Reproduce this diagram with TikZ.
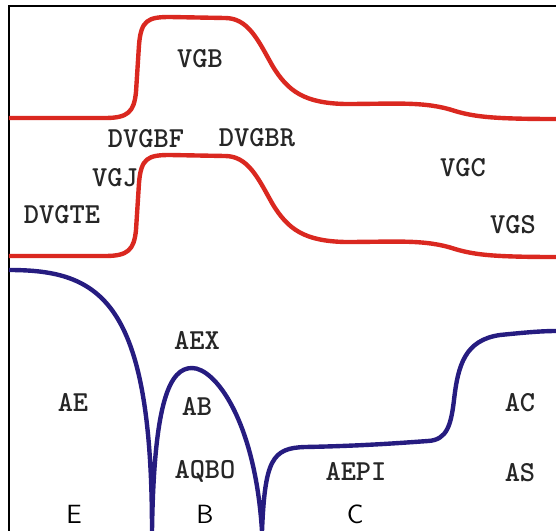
\documentclass[tikz,border=0pt]{standalone}
\usepackage{tikz}
\usepackage{amsmath}
\usetikzlibrary{calc}
\definecolor{vg_red}{RGB}{218, 40, 32}
\definecolor{a_blue}{RGB}{38, 28, 128}
\tikzstyle{lbl}=[font=\fontsize{16.5}{19}\selectfont\ttfamily\bfseries,
  inner sep=0pt,text depth=0pt,text=black!85]
\tikzstyle{reg}=[font=\fontsize{15}{18}\selectfont\sffamily,
  inner sep=0pt,text depth=0pt,text=black]
\tikzstyle{vg}=[draw=vg_red,line width=2.5pt,line join=round]
\tikzstyle{ac}=[draw=a_blue,line width=2.5pt,line join=round]
\tikzstyle{frame}=[draw=black,line width=1.2pt]

\begin{document}
\begin{tikzpicture}[x=0.02cm,y=-0.02cm]
        \useasboundingbox (0,0) rectangle (556,531);
        \draw [style=frame] (556,6) -- (9,6) -- (9,531);
        % the two red curves have the same shape
        \foreach \dy in {0,138} {
            \draw [style=vg,shift={(0,\dy)}] (9,118) -- (105,118)
                .. controls (128,118) and (134,112) .. (136,92) -- (139,45)
                .. controls (141,20) and (148,17) .. (170,17) -- (225,18)
                .. controls (248,18) and (258,40) .. (272,65)
                .. controls (288,92) and (305,103) .. (345,104)
                .. controls (395,104) and (425,101) .. (455,111)
                .. controls (475,117) and (495,119) .. (556,119);
        }
        \draw [style=ac] (9,270) .. controls (100,270) and (152,300) .. (152,531)
            .. controls (154,400) and (170,368) .. (192,368)
            .. controls (215,368) and (255,420) .. (262,531)
            .. controls (265,460) and (272,448) .. (305,447)
            .. controls (360,446) and (400,443) .. (428,441)
            .. controls (447,440) and (451,425) .. (454,400)
            .. controls (458,365) and (465,340) .. (500,335)
            .. controls (520,333) and (540,331) .. (556,331);
        \node [style=lbl] (0) at (200,58) {VGB};
        \node [style=lbl] (1) at (146,138) {DVGBF};
        \node [style=lbl] (2) at (257,137) {DVGBR};
        \node [style=lbl] (3) at (115,177) {VGJ};
        \node [style=lbl] (4) at (62,214) {DVGTE};
        \node [style=lbl] (5) at (463,167) {VGC};
        \node [style=lbl] (6) at (513,224) {VGS};
        \node [style=lbl] (7) at (197,340) {AEX};
        \node [style=lbl] (8) at (73,402) {AE};
        \node [style=lbl] (9) at (197,406) {AB};
        \node [style=lbl] (10) at (205,469) {AQBO};
        \node [style=lbl] (11) at (356,471) {AEPI};
        \node [style=lbl] (12) at (520,402) {AC};
        \node [style=lbl] (13) at (520,472) {AS};
        \node [style=reg] (14) at (74,514) {E};
        \node [style=reg] (15) at (205,514) {B};
        \node [style=reg] (16) at (355,514) {C};
    \end{tikzpicture}
\end{document}
